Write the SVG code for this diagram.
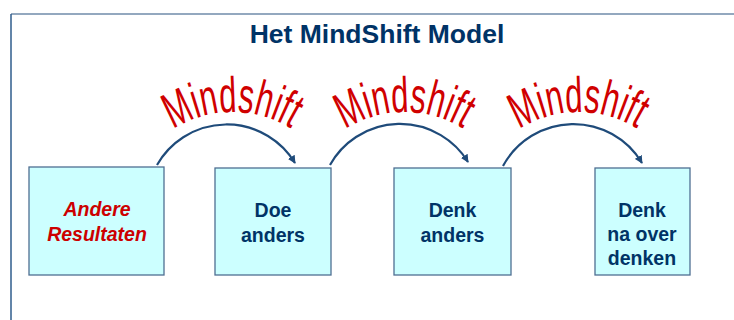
<svg xmlns="http://www.w3.org/2000/svg" width="734" height="320" viewBox="0 0 734 320">
<style>
.box{fill:#CCFFFF;stroke:#4F6F92;stroke-width:1.3}
.lbl{font-family:"Liberation Sans",Arial,sans-serif;font-weight:bold;font-size:19.5px;fill:#003366;text-anchor:middle}
.red{fill:#CC0000;font-style:italic}
.conn{fill:none;stroke:#1F4B7A;stroke-width:2.2}
.ms{font-family:"Liberation Sans",Arial,sans-serif;font-size:50px;fill:#D00000;text-anchor:middle}
.title{font-family:"Liberation Sans",Arial,sans-serif;font-weight:bold;font-size:26.5px;fill:#003366;text-anchor:middle}
</style>
<defs>
<marker id="ah" viewBox="0 0 10 10" refX="9" refY="5" markerWidth="8" markerHeight="8" markerUnits="userSpaceOnUse" orient="auto">
<path d="M0,0 L10,5 L0,10 Z" fill="#1F4B7A"/>
</marker>
<path id="mp" d="M2,132 A112,112 0 0 1 128,131"/>
</defs>
<rect width="734" height="320" fill="#FFFFFF"/>
<g id="frame">
<line x1="11" y1="14" x2="734" y2="14" stroke="#6F8BAA" stroke-width="1.5"/>
<line x1="11" y1="14" x2="11" y2="320" stroke="#2F5C8C" stroke-width="1.5"/>
</g>
<text class="title" x="377" y="43">Het MindShift Model</text>
<g id="connectors">
<path class="conn" d="M157,165 A80,80 0 0 1 295,163" marker-end="url(#ah)"/>
<path class="conn" d="M330,165 A80,80 0 0 1 468,162" marker-end="url(#ah)"/>
<path class="conn" d="M503,166 A80,80 0 0 1 642,163" marker-end="url(#ah)"/>
</g>
<g id="mindshift-labels">
<g transform="translate(167,0)"><text class="ms"><textPath href="#mp" startOffset="50%" textLength="124" lengthAdjust="spacingAndGlyphs">Mindshift</textPath></text></g>
<g transform="translate(339,0)"><text class="ms"><textPath href="#mp" startOffset="50%" textLength="124" lengthAdjust="spacingAndGlyphs">Mindshift</textPath></text></g>
<g transform="translate(513,0)"><text class="ms"><textPath href="#mp" startOffset="50%" textLength="124" lengthAdjust="spacingAndGlyphs">Mindshift</textPath></text></g>
</g>
<g id="node1">
<rect class="box" x="29" y="167" width="135" height="108"/>
<text class="lbl red" x="97" y="216">Andere</text>
<text class="lbl red" x="97" y="241">Resultaten</text>
</g>
<g id="node2">
<rect class="box" x="215" y="168" width="116" height="107"/>
<text class="lbl" x="273" y="217">Doe</text>
<text class="lbl" x="273" y="242">anders</text>
</g>
<g id="node3">
<rect class="box" x="394" y="168" width="117" height="107"/>
<text class="lbl" x="452.5" y="217">Denk</text>
<text class="lbl" x="452.5" y="242">anders</text>
</g>
<g id="node4">
<rect class="box" x="595" y="168" width="95" height="107"/>
<text class="lbl" x="642" y="217">Denk</text>
<text class="lbl" x="642" y="241">na over</text>
<text class="lbl" x="642" y="265">denken</text>
</g>
</svg>
